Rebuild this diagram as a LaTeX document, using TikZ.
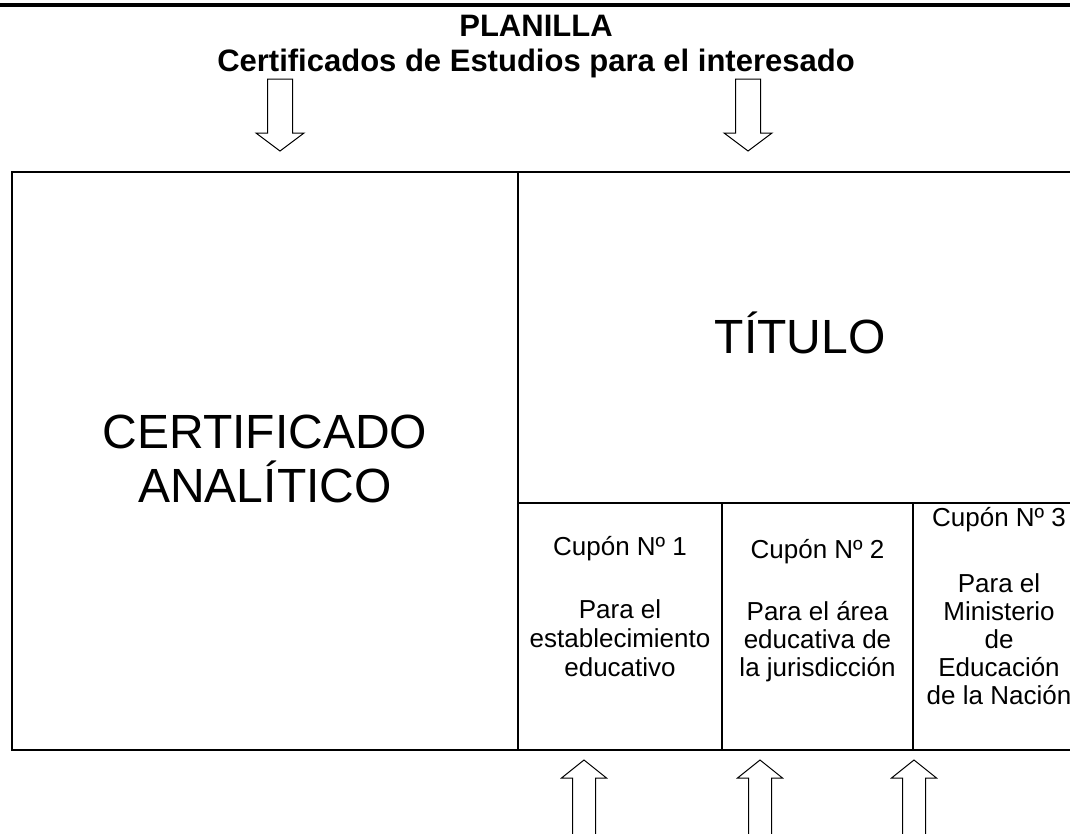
\documentclass[tikz,border=0pt]{standalone}
\usepackage{fontspec}
\setmainfont{Liberation Sans}
\begin{document}
\begin{tikzpicture}[x=1pt,y=-1pt,
  lbl/.style={anchor=base, inner sep=0pt, font=\fontsize{26}{30}\selectfont},
  big/.style={anchor=base, inner sep=0pt, font=\fontsize{48}{54}\selectfont},
  ttl/.style={anchor=base, inner sep=0pt, font=\fontsize{31}{35}\selectfont\bfseries},
  frame/.style={line width=2.5pt},
  innerline/.style={line width=2pt},
  blockarrow/.style={line width=1pt, fill=white, line join=miter},
  downarrow/.pic={\draw[blockarrow] (-12.5,0) -- (12.5,0) -- (12.5,54) -- (24,54) -- (0,72) -- (-24,54) -- (-12.5,54) -- cycle;},
  uparrow/.pic={\draw[blockarrow] (-11.5,100) -- (-11.5,18) -- (-22.5,18) -- (0,0) -- (22.5,18) -- (11.5,18) -- (11.5,100);}
]
\useasboundingbox (0,0) rectangle (1070,833);
\begin{scope}
\clip (0,0) rectangle (1070,833);
% coordinates
\coordinate (ltop) at (-5,5);
\coordinate (rtop) at (1080,5);
\coordinate (tl) at (12,172);
\coordinate (br) at (1086,750);
\coordinate (mt) at (518,172);
\coordinate (mb) at (518,750);
\coordinate (hl) at (518,503);
\coordinate (hr) at (1086,503);
\coordinate (c2t) at (722,503);
\coordinate (c2b) at (722,750);
\coordinate (c3t) at (913,503);
\coordinate (c3b) at (913,750);
% top rule
\draw[line width=4pt] (ltop) -- (rtop);
% frame
\draw[frame] (tl) rectangle (br);
\draw[innerline] (mt) -- (mb);
\draw[innerline] (hl) -- (hr);
\draw[innerline] (c2t) -- (c2b);
\draw[innerline] (c3t) -- (c3b);
% arrows
\pic (da1) at (280,79) {downarrow};
\pic (da2) at (748,79) {downarrow};
\pic (ua1) at (584,760) {uparrow};
\pic (ua2) at (760,760) {uparrow};
\pic (ua3) at (914,760) {uparrow};
\end{scope}
% title
\node[ttl] (t1) at (536,36) {PLANILLA};
\node[ttl] (t2) at (536,71) {Certificados de Estudios para el interesado};
% big labels
\node[big] (ca1) at (265,448) {CERTIFICADO};
\node[big] (ca2) at (265,502) {ANALÍTICO};
\node[big] (tit) at (800,353) {TÍTULO};
% coupon 1
\node[lbl] (k1a) at (620,555) {Cupón Nº 1};
\node[lbl] (k1b) at (620,618) {Para el};
\node[lbl] (k1c) at (620,647) {establecimiento};
\node[lbl] (k1d) at (620,676) {educativo};
% coupon 2
\node[lbl] (k2a) at (817.5,558) {Cupón Nº 2};
\node[lbl] (k2b) at (817.5,620) {Para el área};
\node[lbl] (k2c) at (817.5,648) {educativa de};
\node[lbl] (k2d) at (817.5,676) {la jurisdicción};
% coupon 3
\node[lbl] (k3a) at (999,526) {Cupón Nº 3};
\node[lbl] (k3b) at (999,592) {Para el};
\node[lbl] (k3c) at (999,620) {Ministerio};
\node[lbl] (k3d) at (999,648) {de};
\node[lbl] (k3e) at (999,676) {Educación};
\node[lbl] (k3f) at (999,704) {de la Nación};
\end{tikzpicture}
\end{document}
